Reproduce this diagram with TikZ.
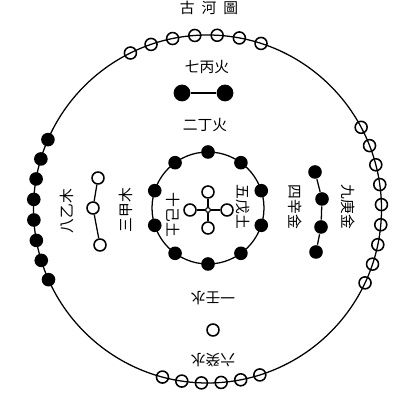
\documentclass[tikz,border=0pt]{standalone}
\usepackage{fontspec}
\newfontfamily\hanzi{Noto Sans CJK TC}
\usetikzlibrary{calc}

\tikzset{
  yang/.style={circle, draw, line width=1.1pt, inner sep=0pt, minimum size=0.3cm},
  yin/.style={circle, fill, inner sep=0pt, minimum size=0.34cm},
  word/.style={font=\hanzi\fontsize{10.5}{12}\selectfont, inner sep=0pt},
}

\begin{document}
\begin{tikzpicture}[x=0.025cm, y=0.025cm, line width=0.9pt]
\useasboundingbox (0,0) rectangle (400,400);
\clip (0,0) rectangle (400,400);
\coordinate (o) at (207.5,191);
\coordinate (c) at (208,192);
\node[word] (title) at (209,392) {古\hspace{5pt}河\hspace{5pt}圖};

\draw (o) circle (174);
\foreach \i in {0,...,6} \node[yang] (qi\i) at ($(o)+(116.3-7.37*\i:174)$) {};
\foreach \i in {0,...,7} \node[yin] (ba\i) at ($(o)+(156.5+6.78*\i:174)$) {};
\foreach \i in {0,...,8} \node[yang] (jiu\i) at ($(o)+(28-6.64*\i:174)$) {};
\foreach \i in {0,...,5} \node[yang] (liu\i) at ($(o)+(255+6.5*\i:174)$) {};

\node[yin, minimum size=0.42cm] (er1) at (182,307) {};
\node[yin, minimum size=0.42cm] (er2) at (225,307) {};
\draw (er1) -- (er2);

\node[yang] (san1) at (98,222) {};
\node[yang] (san2) at (93,192) {};
\node[yang] (san3) at (100,155) {};
\draw (san1) -- (san2) -- (san3);

\node[yin] (si1) at (315,228) {};
\node[yin] (si2) at (322,201) {};
\node[yin] (si3) at (321,173) {};
\node[yin] (si4) at (316,148) {};
\draw (si1) -- (si2) -- (si3) -- (si4);

\node[yang] (yi) at (213,70) {};

\draw (c) circle (56);
\foreach \i in {0,...,9} \node[yin] (shi\i) at ($(c)+(18+36*\i:56)$) {};

\node[yang, minimum size=0.12cm, line width=0.8pt] (wu0) at (208,190) {};
\node[yang] (wu1) at (208,208) {};
\node[yang] (wu2) at (190,190) {};
\node[yang] (wu3) at (227,190) {};
\node[yang] (wu4) at (208,172) {};
\foreach \i in {1,...,4} \draw (wu0) -- (wu\i);

\node[word] (l7) at (207,333) {七丙火};
\node[word] (l2) at (205,275) {二丁火};
\node[word, rotate=90] (l8) at (67,189) {八乙木};
\node[word, rotate=90] (l3) at (126,190) {三甲木};
\node[word, rotate=-90] (l4) at (295,193) {四辛金};
\node[word, rotate=-90] (l9) at (348,193) {九庚金};
\node[word, rotate=-90] (l10) at (173,185) {十己土};
\node[word, rotate=-90] (l5) at (243,193) {五戊土};
\node[word, rotate=180] (l1) at (213,102) {一壬水};
\node[word, rotate=180] (l6) at (213,40) {六癸水};
\end{tikzpicture}
\end{document}
